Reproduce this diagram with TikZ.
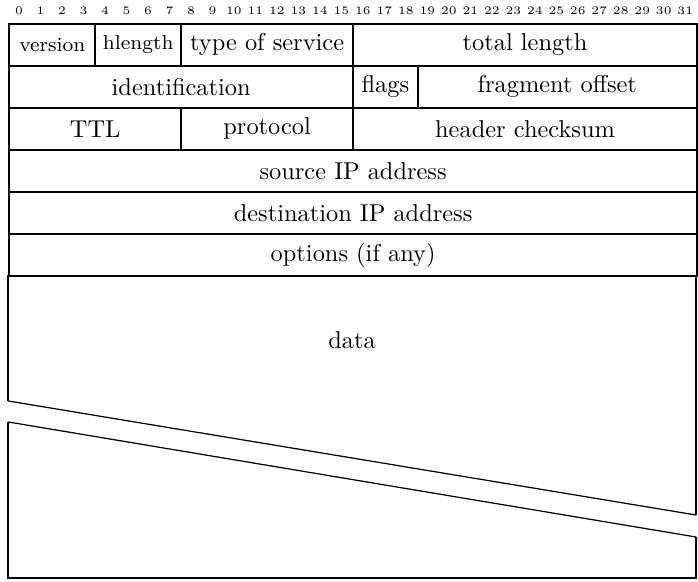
\documentclass[tikz,border=0pt]{standalone}
\usetikzlibrary{calc}
\newcommand{\pxl}{0.41pt}
\begin{document}
\begin{tikzpicture}[x=\pxl, y=-\pxl,
  field/.style={draw, line width=0.8pt, inner sep=0pt, anchor=north west, minimum height=42.05*\pxl},
  smallfield/.style={field, font=\fontsize{8.3}{10}\selectfont},
  bitnum/.style={font=\fontsize{4.7}{5}\selectfont, inner sep=0pt},
  thinline/.style={line width=0.5pt},
  boxline/.style={line width=0.8pt}]
\useasboundingbox (0,0) rectangle (698,581);
% bit numbers
\foreach \i in {0,...,31}
  \node[bitnum] (bit\i) at ({8.3+21.49*(\i+0.5)}, 11) {\i};
% row 1
\node[smallfield, minimum width=86*\pxl] (version) at (8.3,22.7) {version};
\node[smallfield, minimum width=85.9*\pxl] (hlength) at (94.3,22.7) {hlength};
\node[field, minimum width=171.9*\pxl] (tos) at (180.2,22.7) {type of service};
\node[field, minimum width=343.9*\pxl] (totlen) at (352.1,22.7) {total length};
% row 2
\node[field, minimum width=343.8*\pxl] (ident) at (8.3,64.75) {identification};
\node[field, minimum width=64.5*\pxl] (flags) at (352.1,64.75) {flags};
\node[field, minimum width=279.4*\pxl] (fragoff) at (416.6,64.75) {fragment offset};
% row 3
\node[field, minimum width=171.9*\pxl] (ttl) at (8.3,106.8) {TTL};
\node[field, minimum width=171.9*\pxl] (proto) at (180.2,106.8) {protocol};
\node[field, minimum width=343.9*\pxl] (chksum) at (352.1,106.8) {header checksum};
% rows 4-6
\node[field, minimum width=687.7*\pxl] (srcip) at (8.3,148.85) {source IP address};
\node[field, minimum width=687.7*\pxl] (dstip) at (8.3,190.9) {destination IP address};
\node[field, minimum width=687.7*\pxl] (opts) at (8.3,232.95) {options (if any)};
% data
\node (data) at (352.1,340) {data};
\coordinate (dtl) at (8.3,275);
\coordinate (dtr) at (696,275);
\coordinate (dbl) at (8.3,401);
\coordinate (dbr) at (696,515);
\coordinate (ltl) at (8.3,422);
\coordinate (ltr) at (696,537);
\coordinate (lbl) at (8.3,578);
\coordinate (lbr) at (696,578);
\draw[boxline] (dbl) -- (dtl);
\draw[boxline] (dtr) -- (dbr);
\draw[thinline] (dbl) -- (dbr);
\draw[boxline] (ltl) -- (lbl) -- (lbr) -- (ltr);
\draw[thinline] (ltl) -- (ltr);
\end{tikzpicture}
\end{document}
